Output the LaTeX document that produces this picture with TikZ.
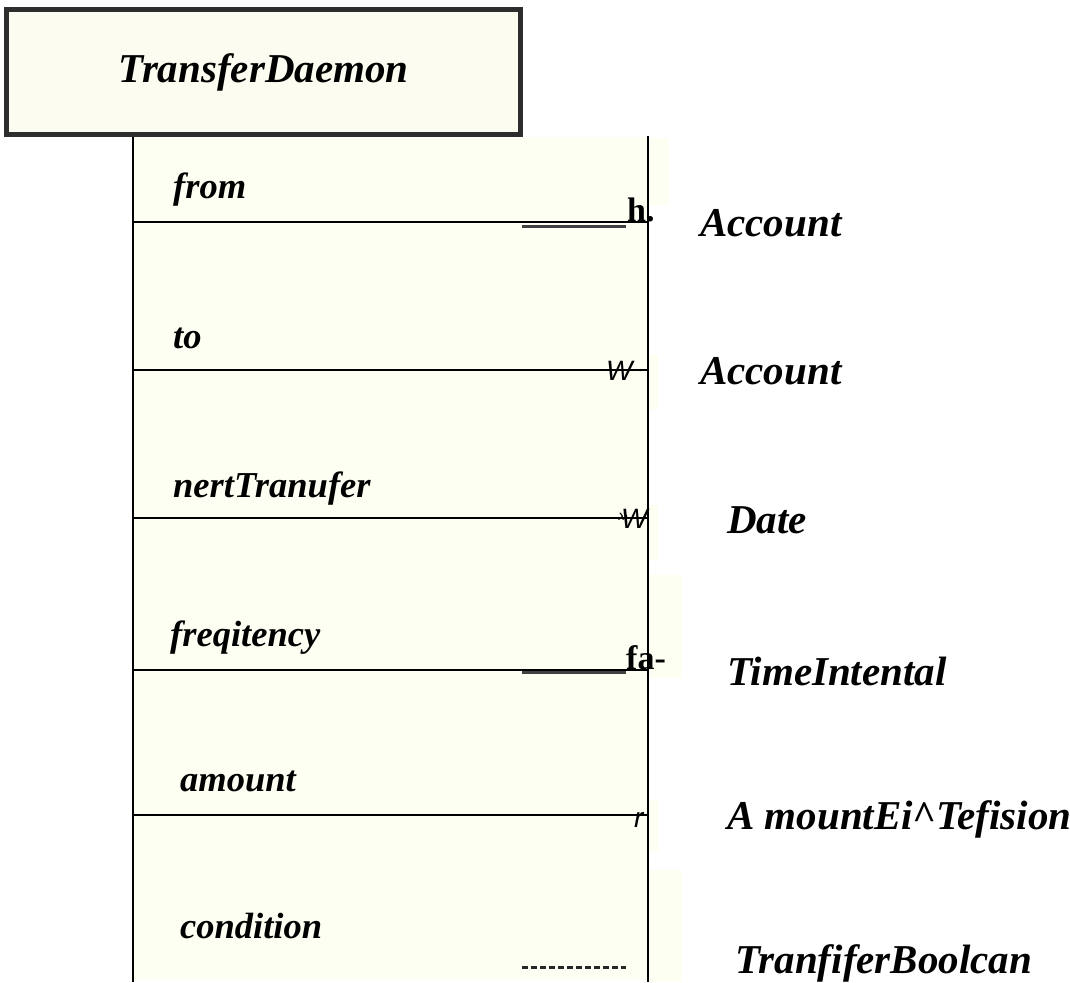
\documentclass[tikz,border=0pt]{standalone}
\usepackage{fontspec}
\setmainfont{Liberation Serif}
\newfontfamily\lsans{Liberation Sans}
\definecolor{ivory}{HTML}{FDFFF2}
\definecolor{ivoryb}{HTML}{FCFDF0}
\definecolor{frame}{HTML}{2E2E2E}
\tikzset{
  titlebox/.style={draw=frame, line width=4.5pt, fill=ivoryb, minimum width=514pt, minimum height=125pt, inner sep=0pt},
  rowline/.style={line width=2.6pt, black},
  attr/.style={anchor=base west, inner sep=0pt, font=\fontsize{36.5}{40}\selectfont\bfseries\itshape},
  typ/.style={anchor=base west, inner sep=0pt, font=\fontsize{41}{44}\selectfont\bfseries\itshape},
  junk/.style={anchor=base west, inner sep=0pt, font=\fontsize{34}{36}\selectfont\bfseries},
  junks/.style={anchor=base west, inner sep=0pt, font=\fontsize{28}{30}\selectfont\lsans\itshape},
  uline/.style={line width=3pt, black!75},
  patch/.style={fill=ivory}
}
\begin{document}
\begin{tikzpicture}[x=1pt,y=-1pt]
\useasboundingbox (0,0) rectangle (1070,982);
% faint patches right of the box
\fill[patch] (648,138) rectangle (669,205);
\fill[patch] (648,355) rectangle (658,410);
\fill[patch] (648,505) rectangle (658,560);
\fill[patch] (648,575) rectangle (682,678);
\fill[patch] (648,800) rectangle (658,852);
\fill[patch] (648,870) rectangle (682,982);
% main box
\fill[ivory] (133,137) rectangle (648,980);
\draw[rowline] (133,136) -- (133,982);
\draw[rowline] (648,136) -- (648,982);
\foreach \y in {222,370,518,670,815} \draw[rowline] (133,\y) -- (648,\y);
% title
\node[titlebox] (title) at (263.5,72) {\fontsize{41}{44}\selectfont\bfseries\itshape TransferDaemon};
% attribute labels
\node[attr] (a1) at (173,198) {from};
\node[attr] (a2) at (173,348) {to};
\node[attr] (a3) at (173,497) {nertTranufer};
\node[attr] (a4) at (170,646) {freqitency};
\node[attr] (a5) at (180,791) {amount};
\node[attr] (a6) at (180,938) {condition};
% type labels
\node[typ] (t1) at (700,236) {Account};
\node[typ] (t2) at (700,384) {Account};
\node[typ] (t3) at (727,533) {Date};
\node[typ] (t4) at (727,685) {TimeIntental};
\node[typ] (t5) at (727,829) {A mountEi\^{}Tefision};
\node[typ] (t6) at (735,973) {TranfiferBoolcan};
% stray marks
\draw[uline] (522,226) -- (626,226);
\node[junk] (j1) at (627,221) {h.};
\node[junks] (j2) at (606,380) {W\raisebox{4pt}{\fontsize{18}{18}\selectfont\char`\~}};
\node[junks] (j3) at (618,528) {\raisebox{7pt}{\fontsize{18}{18}\selectfont »}\kern-7pt W};
\draw[uline] (522,672) -- (626,672);
\node[junk] (j4) at (626,669) {fa-};
\node[junks] (j5) at (634,827) {r};
\draw[line width=3pt, black!85, dash pattern=on 6pt off 3pt] (522,967) -- (626,967);
\end{tikzpicture}
\end{document}
